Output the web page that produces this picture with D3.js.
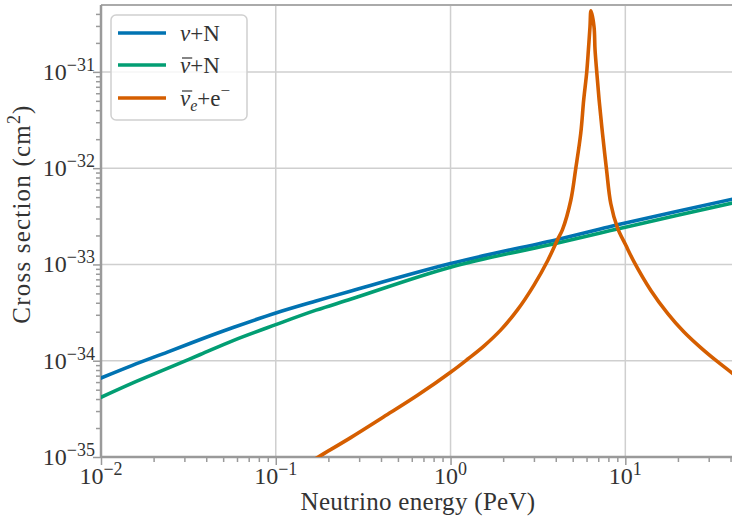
<!DOCTYPE html>
<html>
<head>
<meta charset="utf-8">
<script src="https://cdn.jsdelivr.net/npm/d3@7"></script>
<style>
  body { margin: 0; background: #fff; }
  svg text { font-family: "Liberation Serif", "DejaVu Serif", serif; fill: #333; }
</style>
</head>
<body>
<svg id="chart" width="732" height="519"></svg>
<script>
// neutrino-nucleon curves (energy in PeV, cross section in cm^2)
const nucleonEnergy = [0.01, 0.015, 0.024, 0.037, 0.057, 0.1, 0.17, 0.27, 1, 4.1, 7.2, 10, 41.7];
const sigmaNuN = [6.61e-35, 8.9e-35, 1.23e-34, 1.66e-34, 2.21e-34, 3.13e-34, 4.17e-34, 5.3e-34,
  1.02e-33, 1.82e-33, 2.33e-33, 2.69e-33, 4.8e-33];
const sigmaNubarN = [4.17e-35, 5.82e-35, 8.32e-35, 1.16e-34, 1.62e-34, 2.37e-34, 3.35e-34, 4.37e-34,
  9.35e-34, 1.67e-33, 2.12e-33, 2.44e-33, 4.37e-33];

// Glashow resonance curve
const glashowEnergy = [0.158, 0.175, 0.267, 0.413, 0.647, 1.0, 1.25, 1.545, 1.94, 2.42, 2.99, 3.6,
  4.1, 4.37, 4.88, 5.2, 5.56, 5.78, 6.01, 6.15, 6.28, 6.36, 6.62, 6.71, 6.87, 7.08, 7.4, 7.8,
  8.26, 9.02, 10.07, 11.2, 14.0, 17.5, 21.6, 27.1, 33.7, 41.7];
const sigmaGlashow = [8.9e-36, 1.0e-35, 1.58e-35, 2.6e-35, 4.37e-35, 7.59e-35, 1.035e-34, 1.41e-34,
  2.09e-34, 3.39e-34, 6.03e-34, 1.1e-33, 1.82e-33, 2.3e-33, 4.67e-33, 9.8e-33, 2.31e-32, 5.13e-32,
  9.77e-32, 1.7e-31, 2.95e-31, 4.3e-31, 2.95e-31, 1.7e-31, 9.77e-32, 5.13e-32, 2.31e-32, 9.8e-33,
  4.27e-33, 2.4e-33, 1.58e-33, 1.07e-33, 5.37e-34, 3.09e-34, 2.0e-34, 1.36e-34, 9.77e-35, 7.24e-35];

const xTickExps = [-2, -1, 0, 1];
const yTickExps = [-35, -34, -33, -32, -31];

const colors = { nu: '#0173b2', nubar: '#029e73', glashow: '#d55e00' };

const margin = { top: 5, left: 101, bottom: 62 };
const width = 732, height = 519;
const plotRight = 733.7;

const svg = d3.select('#chart');

const x = d3.scaleLog().domain([1e-2, 41.7]).range([margin.left, plotRight]);
const y = d3.scaleLog().domain([1e-35, 4.95e-31]).range([height - margin.bottom, margin.top]);
const plotBottom = height - margin.bottom;

const xMajor = xTickExps.map(e => Math.pow(10, e));
const yMajor = yTickExps.map(e => Math.pow(10, e));
const xMinor = [];
xTickExps.forEach(e => { for (let k = 2; k < 10; k++) { const v = k * Math.pow(10, e); if (v <= 41.7) xMinor.push(v); } });
const yMinor = [];
yTickExps.forEach(e => { for (let k = 2; k < 10; k++) { const v = k * Math.pow(10, e); if (v <= 4.95e-31) yMinor.push(v); } });

// grid
const grid = svg.append('g').attr('stroke', '#cfcfcf').attr('stroke-width', 1.5);
xMajor.forEach(v => grid.append('line')
  .attr('x1', x(v)).attr('x2', x(v)).attr('y1', margin.top).attr('y2', plotBottom));
yMajor.forEach(v => grid.append('line')
  .attr('x1', margin.left).attr('x2', plotRight).attr('y1', y(v)).attr('y2', y(v)));

// axes
const xAxis = svg.append('g').attr('transform', `translate(0, ${plotBottom})`);
xAxis.call(d3.axisBottom(x).tickValues(xMinor).tickSize(5).tickFormat(''));
xAxis.append('g').call(d3.axisBottom(x).tickValues(xMajor).tickSize(8).tickFormat(''));
const yAxis = svg.append('g').attr('transform', `translate(${margin.left}, 0)`);
yAxis.call(d3.axisLeft(y).tickValues(yMinor).tickSize(5).tickFormat(''));
yAxis.append('g').call(d3.axisLeft(y).tickValues(yMajor).tickSize(8).tickFormat(''));
svg.selectAll('.domain').attr('stroke', 'none');
svg.selectAll('.tick line').attr('stroke', '#9a9a9a').attr('stroke-width', 1.5);

// spines
svg.append('line').attr('x1', margin.left).attr('x2', plotRight).attr('y1', margin.top).attr('y2', margin.top)
  .attr('stroke', '#aaa').attr('stroke-width', 2);
svg.append('line').attr('x1', margin.left).attr('x2', plotRight).attr('y1', plotBottom).attr('y2', plotBottom)
  .attr('stroke', '#9a9a9a').attr('stroke-width', 2.5);
svg.append('line').attr('x1', margin.left).attr('x2', margin.left).attr('y1', margin.top).attr('y2', plotBottom)
  .attr('stroke', '#9a9a9a').attr('stroke-width', 2.5);

// tick labels
xTickExps.forEach(e => {
  const t = svg.append('text').attr('x', x(Math.pow(10, e))).attr('y', 484)
    .attr('text-anchor', 'middle').style('font-size', '24px');
  t.append('tspan').text('10');
  t.append('tspan').attr('dy', -9).style('font-size', '18px').text(e < 0 ? '\u2212' + (-e) : e);
});
yTickExps.forEach(e => {
  const t = svg.append('text').attr('x', 95).attr('y', y(Math.pow(10, e)) + 8)
    .attr('text-anchor', 'end').style('font-size', '24px');
  t.append('tspan').text('10');
  t.append('tspan').attr('dy', -9).style('font-size', '18px').text('\u2212' + (-e));
});

// axis labels
svg.append('text').attr('x', 418).attr('y', 510).attr('text-anchor', 'middle')
  .style('font-size', '25px').style('letter-spacing', '0.3px').text('Neutrino energy (PeV)');
const yl = svg.append('text').attr('transform', `translate(30, 214) rotate(-90)`)
  .attr('text-anchor', 'middle').style('font-size', '25px').style('letter-spacing', '1.2px');
yl.append('tspan').text('Cross section (cm');
yl.append('tspan').attr('dy', -10).style('font-size', '18px').text('2');
yl.append('tspan').attr('dy', 10).text(')');

// curves
svg.append('clipPath').attr('id', 'clip').append('rect')
  .attr('x', margin.left).attr('y', margin.top)
  .attr('width', plotRight - margin.left).attr('height', plotBottom - margin.top);

const line = d3.line().x(d => x(d[0])).y(d => y(d[1])).curve(d3.curveCatmullRom.alpha(0.5));
const curves = svg.append('g').attr('clip-path', 'url(#clip)');
const series = [
  { key: 'nu', data: d3.zip(nucleonEnergy, sigmaNuN) },
  { key: 'nubar', data: d3.zip(nucleonEnergy, sigmaNubarN) },
  { key: 'glashow', data: d3.zip(glashowEnergy, sigmaGlashow) }
];
series.forEach(s => curves.append('path')
  .attr('d', line(s.data)).attr('fill', 'none')
  .attr('stroke', colors[s.key]).attr('stroke-width', 3.6)
  .attr('stroke-linejoin', 'round').attr('stroke-linecap', 'round'));

// legend
const legend = svg.append('g');
legend.append('rect').attr('x', 111).attr('y', 15).attr('width', 136).attr('height', 105).attr('rx', 5)
  .attr('fill', '#fff').attr('fill-opacity', 0.8).attr('stroke', '#d0d0d0').attr('stroke-width', 1.5);
const legendRows = [
  { key: 'nu', y: 33 },
  { key: 'nubar', y: 65 },
  { key: 'glashow', y: 98 }
];
legendRows.forEach(r => legend.append('line')
  .attr('x1', 118).attr('x2', 166).attr('y1', r.y).attr('y2', r.y)
  .attr('stroke', colors[r.key]).attr('stroke-width', 3.6));

function barNu(textSel) {
  // overline above the first (italic nu) glyph
  const ext = textSel.node().getExtentOfChar(0);
  legend.append('line')
    .attr('x1', ext.x + 2).attr('x2', ext.x + ext.width + 2)
    .attr('y1', ext.y + 5).attr('y2', ext.y + 5)
    .attr('stroke', '#333').attr('stroke-width', 1.2);
}

const l1 = legend.append('text').attr('x', 180).attr('y', 41).style('font-size', '23px');
l1.append('tspan').style('font-style', 'italic').text('\u03bd');
l1.append('tspan').text('+N');
const l2 = legend.append('text').attr('x', 180).attr('y', 73).style('font-size', '23px');
l2.append('tspan').style('font-style', 'italic').text('\u03bd');
l2.append('tspan').text('+N');
const l3 = legend.append('text').attr('x', 180).attr('y', 106).style('font-size', '23px');
l3.append('tspan').style('font-style', 'italic').text('\u03bd');
l3.append('tspan').attr('dy', 5).style('font-size', '16px').style('font-style', 'italic').text('e');
l3.append('tspan').attr('dy', -5).text('+e');
l3.append('tspan').attr('dy', -10).style('font-size', '17px').text('\u2212');
barNu(l2);
barNu(l3);
</script>
</body>
</html>
